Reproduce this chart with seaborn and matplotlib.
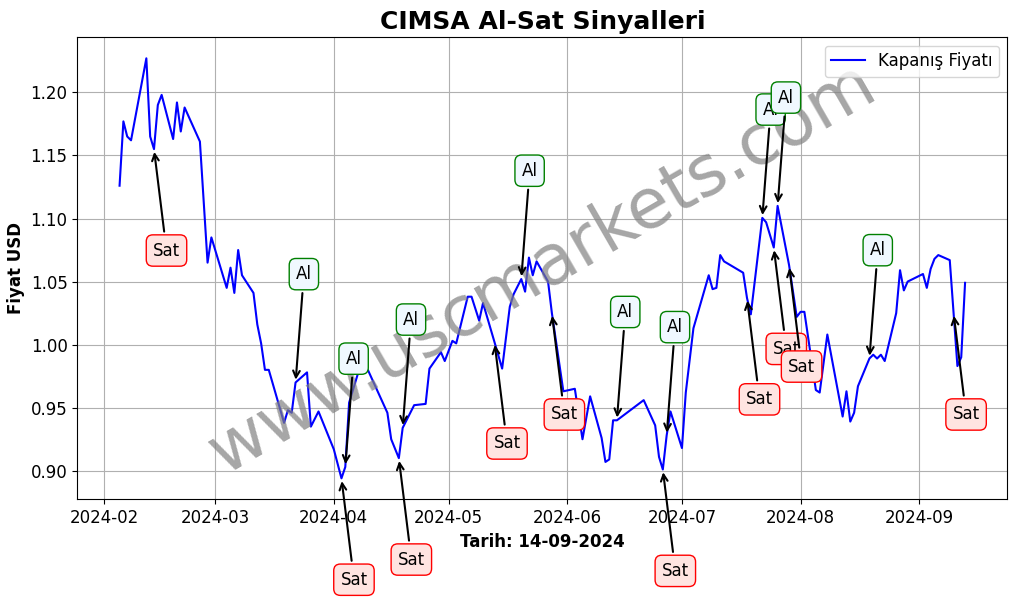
import pandas as pd
import matplotlib
matplotlib.use('Agg')
import matplotlib.pyplot as plt
import seaborn as sns

# Closing prices
dates = [
    '2024-02-05', '2024-02-06', '2024-02-07', '2024-02-08', '2024-02-12', '2024-02-13',
    '2024-02-14', '2024-02-15', '2024-02-16', '2024-02-19', '2024-02-20', '2024-02-21',
    '2024-02-22', '2024-02-26', '2024-02-28', '2024-02-29', '2024-03-04', '2024-03-05',
    '2024-03-06', '2024-03-07', '2024-03-08', '2024-03-11', '2024-03-12', '2024-03-13',
    '2024-03-14', '2024-03-15', '2024-03-19', '2024-03-20', '2024-03-21', '2024-03-22',
    '2024-03-25', '2024-03-26', '2024-03-28', '2024-04-01', '2024-04-03', '2024-04-04',
    '2024-04-05', '2024-04-08', '2024-04-09', '2024-04-15', '2024-04-16', '2024-04-18',
    '2024-04-19', '2024-04-22', '2024-04-25', '2024-04-26', '2024-04-29', '2024-04-30',
    '2024-05-02', '2024-05-03', '2024-05-06', '2024-05-07', '2024-05-09', '2024-05-10',
    '2024-05-13', '2024-05-15', '2024-05-17', '2024-05-18', '2024-05-20', '2024-05-21',
    '2024-05-22', '2024-05-23', '2024-05-24', '2024-05-27', '2024-05-28', '2024-05-31',
    '2024-06-03', '2024-06-05', '2024-06-07', '2024-06-10', '2024-06-11', '2024-06-12',
    '2024-06-13', '2024-06-14', '2024-06-21', '2024-06-24', '2024-06-25', '2024-06-26',
    '2024-06-27', '2024-06-28', '2024-07-01', '2024-07-02', '2024-07-04', '2024-07-08',
    '2024-07-09', '2024-07-10', '2024-07-11', '2024-07-12', '2024-07-17', '2024-07-18',
    '2024-07-19', '2024-07-22', '2024-07-23', '2024-07-25', '2024-07-26', '2024-07-29',
    '2024-07-31', '2024-08-01', '2024-08-02', '2024-08-05', '2024-08-06', '2024-08-08',
    '2024-08-12', '2024-08-13', '2024-08-14', '2024-08-15', '2024-08-16', '2024-08-19',
    '2024-08-20', '2024-08-21', '2024-08-22', '2024-08-23', '2024-08-26', '2024-08-27',
    '2024-08-28', '2024-08-29', '2024-09-02', '2024-09-03', '2024-09-04', '2024-09-05',
    '2024-09-06', '2024-09-09', '2024-09-10', '2024-09-11', '2024-09-12', '2024-09-13',
]
prices = [
    1.126, 1.177, 1.165, 1.162, 1.227, 1.165,
    1.155, 1.190, 1.198, 1.163, 1.192, 1.169,
    1.188, 1.161, 1.065, 1.085, 1.045, 1.061,
    1.041, 1.075, 1.055, 1.041, 1.016, 1.001,
    0.980, 0.980, 0.938, 0.948, 0.946, 0.970,
    0.978, 0.935, 0.947, 0.917, 0.894, 0.903,
    0.954, 0.984, 0.986, 0.946, 0.925, 0.910,
    0.934, 0.952, 0.953, 0.981, 0.994, 0.987,
    1.003, 1.001, 1.038, 1.038, 1.019, 1.033,
    1.002, 0.981, 1.030, 1.040, 1.052, 1.042,
    1.069, 1.055, 1.066, 1.050, 1.025, 0.963,
    0.965, 0.925, 0.959, 0.926, 0.907, 0.909,
    0.940, 0.940, 0.956, 0.936, 0.911, 0.901,
    0.928, 0.947, 0.918, 0.962, 1.013, 1.055,
    1.044, 1.045, 1.071, 1.066, 1.057, 1.037,
    1.024, 1.1005, 1.097, 1.077, 1.110, 1.063,
    1.022, 1.026, 1.026, 0.964, 0.962, 1.008,
    0.943, 0.963, 0.939, 0.946, 0.967, 0.989,
    0.992, 0.989, 0.992, 0.987, 1.025, 1.059,
    1.043, 1.050, 1.056, 1.045, 1.060, 1.068,
    1.071, 1.067, 1.025, 0.983, 0.990, 1.049,
]

sell_dates = ['2024-02-14', '2024-04-03', '2024-04-18', '2024-05-13', '2024-05-28',
              '2024-06-26', '2024-07-18', '2024-07-25', '2024-07-29', '2024-09-10']
buy_dates = ['2024-03-22', '2024-04-04', '2024-04-19', '2024-05-20', '2024-06-14',
             '2024-06-27', '2024-07-22', '2024-07-26', '2024-08-19']

df = pd.DataFrame({'Tarih': pd.to_datetime(dates), 'Fiyat': prices})
price_at = dict(zip(df['Tarih'], df['Fiyat']))

fig, ax = plt.subplots(figsize=(10.17, 5.98), dpi=100)
plt.subplots_adjust(left=0.076, right=0.9905, top=0.9376, bottom=0.165)

sns.lineplot(data=df, x='Tarih', y='Fiyat', color='blue', linewidth=1.5,
             label='Kapanış Fiyatı', ax=ax)

# Sell signals
for d in sell_dates:
    t = pd.Timestamp(d)
    ax.annotate('Sat', xy=(t, price_at[t]), xytext=(9, -73), textcoords='offset points',
                ha='center', va='center', fontsize=12,
                bbox=dict(boxstyle='round,pad=0.4', fc='mistyrose', ec='red'),
                arrowprops=dict(arrowstyle='->', color='black', lw=1.5))

# Buy signals
for d in buy_dates:
    t = pd.Timestamp(d)
    ax.annotate('Al', xy=(t, price_at[t]), xytext=(6, 78), textcoords='offset points',
                ha='center', va='center', fontsize=12,
                bbox=dict(boxstyle='round,pad=0.4', fc='aliceblue', ec='green'),
                arrowprops=dict(arrowstyle='->', color='black', lw=1.5))

# Watermark
ax.text(0.5, 0.5, 'www.uscmarkets.com', transform=ax.transAxes, fontsize=50,
        color='gray', alpha=0.7, rotation=30, ha='center', va='center', zorder=2.5)

ax.set_title('CIMSA Al-Sat Sinyalleri', fontsize=18, fontweight='bold')
ax.set_xlabel('Tarih: 14-09-2024', fontsize=12, fontweight='bold')
ax.set_ylabel('Fiyat USD', fontsize=12, fontweight='bold')
ax.tick_params(labelsize=12)
ax.grid(True)
ax.legend(loc='upper right', fontsize=12)

plt.savefig('out.png')
